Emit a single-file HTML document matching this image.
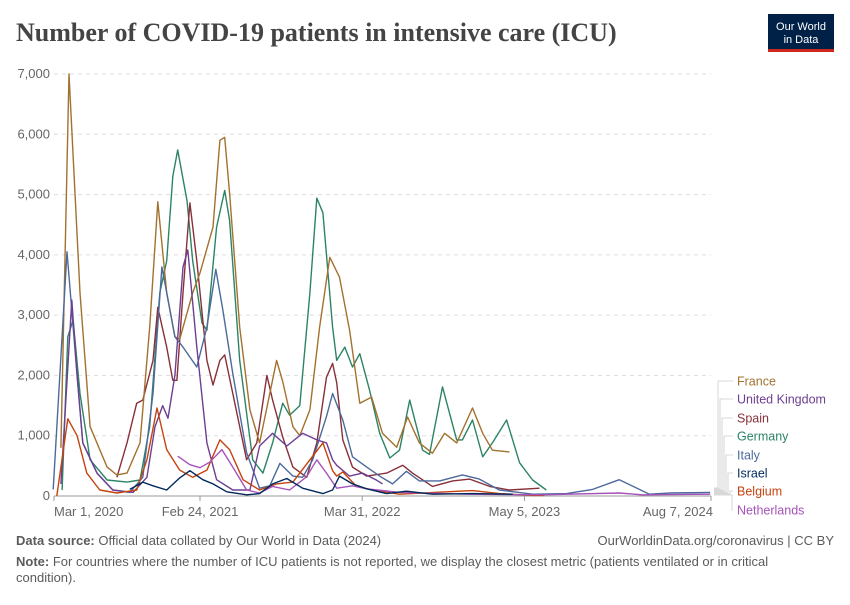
<!DOCTYPE html>
<html><head><meta charset="utf-8"><style>
body{margin:0;background:#fff;width:850px;height:600px;overflow:hidden;font-family:"Liberation Sans",sans-serif}
</style></head><body>
<svg id="c" width="850" height="600" xmlns="http://www.w3.org/2000/svg">
<text x="16" y="41" font-family="Liberation Serif,serif" font-size="26" font-weight="bold" fill="#444">Number of COVID-19 patients in intensive care (ICU)</text>
<g>
<rect x="768" y="14" width="66" height="38" fill="#002147"/>
<rect x="768" y="49" width="66" height="3" fill="#ce261e"/>
<text x="801" y="30" font-size="11" fill="#fff" text-anchor="middle">Our World</text>
<text x="801" y="43" font-size="11" fill="#fff" text-anchor="middle">in Data</text>
</g>
<g id="grid"></g><g id="lines"></g><g id="legend"></g>
<text x="16" y="545" font-size="13" fill="#5b5b5b"><tspan font-weight="bold">Data source:</tspan> Official data collated by Our World in Data (2024)</text>
<text x="834" y="545" font-size="13" fill="#5b5b5b" text-anchor="end">OurWorldinData.org/coronavirus | CC BY</text>
<text x="16" y="566" font-size="13" fill="#5b5b5b"><tspan font-weight="bold">Note:</tspan> For countries where the number of ICU patients is not reported, we display the closest metric (patients ventilated or in critical</text>
<text x="16" y="582" font-size="13" fill="#5b5b5b">condition).</text>
</svg>
<script>
const yTicks=[0,1000,2000,3000,4000,5000,6000,7000];
const yTickLabels=["0","1,000","2,000","3,000","4,000","5,000","6,000","7,000"];
const xTickDays=[0,360,760,1160,1620];
const xTickLabels=["Mar 1, 2020","Feb 24, 2021","Mar 31, 2022","May 5, 2023","Aug 7, 2024"];
const franceDays=[17,37,64,89,131,155,180,212,236,256,278,298,310,342,360,392,409,421,433,458,483,507,532,549,564,589,606,631,655,680,704,729,754,783,810,845,872,901,933,963,993,1032,1057,1081,1123];
const franceValues=[800,7000,3370,1150,480,350,380,880,2800,4880,3370,2640,2600,3370,3700,4460,5900,5950,5020,2800,1430,880,1700,2250,1900,1150,1000,1430,2800,3960,3630,2750,1540,1640,1040,810,1310,880,710,1040,880,1460,1040,760,730];
const germanyDays=[20,34,47,64,89,131,180,212,236,261,278,293,305,328,342,365,377,401,421,433,458,490,515,539,564,581,606,631,648,663,687,697,717,736,754,778,803,828,852,877,909,926,958,993,1007,1032,1057,1081,1116,1148,1180,1214];
const germanyValues=[100,2640,2920,1700,600,265,230,265,1150,3370,3900,5300,5740,4900,3900,2870,2750,4460,5070,4570,2250,600,380,880,1540,1340,1500,3370,4940,4700,2800,2250,2470,2140,2360,1760,1040,630,760,1590,760,690,1810,930,930,1260,650,880,1260,550,265,100];
const spainDays=[155,180,204,219,244,256,278,293,303,318,335,352,377,392,409,421,441,475,500,525,539,564,589,623,648,672,687,697,712,736,771,820,860,884,933,983,1025,1074,1123,1197];
const spainValues=[310,880,1540,1590,2250,3130,2470,1920,1920,3370,4860,3900,2250,1840,2250,2340,1700,600,880,2000,1590,980,480,310,880,1970,2200,1880,930,480,330,380,510,380,160,250,280,160,100,130];
const ukDays=[17,44,57,71,106,145,195,229,249,268,281,298,318,330,352,377,401,441,483,507,539,574,613,648,672,687,697,729,761,796,810];
const ukValues=[200,3250,2000,880,380,100,60,310,1150,1500,1290,2000,3800,4080,2470,880,270,100,100,830,1040,830,1040,930,880,600,510,330,380,260,200];
const italyDays=[-2,32,57,71,106,145,187,219,244,266,278,298,318,352,377,399,416,441,475,507,532,557,589,613,638,672,687,712,736,771,803,835,869,901,951,1007,1049,1098,1180,1264,1328,1394,1468,1520,1618];
const italyValues=[110,4050,2000,880,380,100,60,310,1700,3800,3370,2640,2470,2140,2800,3760,3100,2030,720,130,170,540,330,310,600,1320,1700,1260,650,480,330,200,410,250,250,350,280,100,30,40,110,270,30,50,60];
const israelDays=[187,219,244,278,310,335,367,392,426,475,507,539,574,613,663,687,704,736,771,820,869,933,1032,1131];
const israelValues=[110,230,170,100,300,420,270,200,70,20,40,200,290,130,40,100,330,200,120,40,80,30,40,30];
const belgiumDays=[7,34,57,81,113,155,204,229,254,278,310,342,377,409,433,466,507,549,589,631,663,687,697,712,746,786,852,968,1032,1098,1180,1209];
const belgiumValues=[0,1280,1000,380,100,50,100,600,1460,770,430,310,430,930,770,270,100,200,230,600,880,420,330,400,160,100,30,70,90,40,10,10];
const netherlandsDays=[305,335,360,384,414,441,475,507,539,581,623,648,672,697,736,771,852,1017,1200,1394,1450,1618];
const netherlandsValues=[660,520,470,560,770,480,100,50,160,100,320,600,380,130,170,120,60,30,20,50,20,30];

const NS="http://www.w3.org/2000/svg";
const X0=54,X1=711,Y0=496,Y1=74,DMAX=1620,VMAX=7000;
function xs(d){return X0+(X1-X0)*d/DMAX;}
function ys(v){return Y0-(Y0-Y1)*v/VMAX;}
function mk(tag,attrs,parent){const e=document.createElementNS(NS,tag);for(const k in attrs)e.setAttribute(k,attrs[k]);parent.appendChild(e);return e;}
const grid=document.getElementById('grid');
yTicks.forEach((t,i)=>{
  if(t>0){const l=mk('line',{x1:X0,x2:X1,y1:ys(t),y2:ys(t),stroke:'#ddd','stroke-dasharray':'4,4'},grid);
  
  }
  const tx=mk('text',{x:50,y:ys(t)+4,'font-size':13,fill:'#666','text-anchor':'end'},grid);
  tx.textContent=yTickLabels[i];
  
  
});
const ax=mk('line',{x1:X0,x2:X1,y1:Y0,y2:Y0,stroke:'#999'},grid);


xTickDays.forEach((d,i)=>{
  const tk=mk('line',{x1:xs(d),x2:xs(d),y1:Y0,y2:Y0+5,stroke:'#999'},grid);
  
  
  const anchor=i==0?'start':(i==xTickDays.length-1?'end':'middle');
  const tx=mk('text',{x:xs(d)+(i==xTickDays.length-1?2:0),y:516,'font-size':13,fill:'#666','text-anchor':anchor},grid);
  tx.textContent=xTickLabels[i];
  
  
});
const series=[
 ['France','#a2712f',franceDays,franceValues],
 ['United Kingdom','#6d3e91',ukDays,ukValues],
 ['Spain','#883039',spainDays,spainValues],
 ['Germany','#2c8465',germanyDays,germanyValues],
 ['Italy','#4c6a9c',italyDays,italyValues],
 ['Israel','#00295b',israelDays,israelValues],
 ['Belgium','#c4430f',belgiumDays,belgiumValues],
 ['Netherlands','#a652ba',netherlandsDays,netherlandsValues]
];
const lines=document.getElementById('lines');
const order=[3,2,0,4,1,6,7,5];
order.forEach(si=>{
  const s=series[si];
  const pts=s[2].map((d,i)=>xs(d).toFixed(1)+','+ys(s[3][i]).toFixed(1)).join(' ');
  const p=mk('polyline',{points:pts,fill:'none',stroke:s[1],'stroke-width':1.4,'stroke-linejoin':'round'},lines);
  
  
});
const legend=document.getElementById('legend');
const labelY=[381,399,418,436,455,473,491,510];
series.forEach((s,i)=>{
  const vx=718+i*2;
  const sy=488+i*1;
  const c=mk('polyline',{points:`714,${sy} ${vx},${sy} ${vx},${labelY[i]} 733,${labelY[i]}`,fill:'none',stroke:'#ccc','stroke-width':0.8},legend);
  
  
  const t=mk('text',{x:737,y:labelY[i]+4.5,'font-size':12.5,fill:s[1]},legend);
  t.textContent=s[0];
  
  
});
</script>
</body></html>
